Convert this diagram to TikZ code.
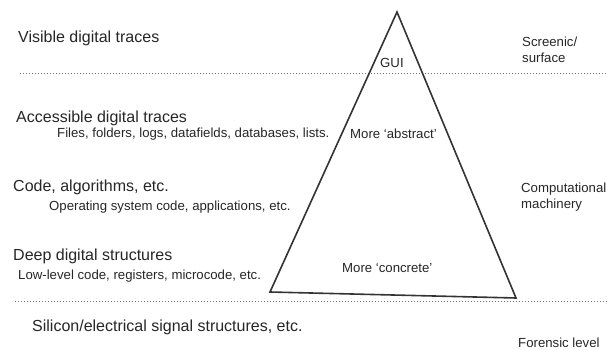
\documentclass[tikz,border=0pt]{standalone}
\usepackage{fontspec}
\setmainfont{Liberation Sans}
\begin{document}
\begin{tikzpicture}[x=1pt,y=-1pt,
  big/.style={anchor=base west,inner sep=0pt,font=\fontsize{16}{19}\selectfont,text=black!85},
  small/.style={anchor=base west,inner sep=0pt,font=\fontsize{13.2}{16}\selectfont,text=black!85},
  side/.style={anchor=base west,inner sep=0pt,font=\fontsize{13.2}{16}\selectfont,text=black!85},
  sep/.style={draw=black!55,line width=1pt,dash pattern=on 1pt off 2pt},
  tri/.style={draw=black!80,line width=1.6pt,line join=miter}]
\useasboundingbox (0,0) rectangle (607,350);
% separators
\coordinate (s1a) at (20,74);
\coordinate (s1b) at (607,74);
\coordinate (s2a) at (15,301);
\coordinate (s2b) at (607,301);
\draw[sep] (s1a) -- (s1b);
\draw[sep] (s2a) -- (s2b);
% triangle
\coordinate (apex) at (397,12);
\coordinate (bl) at (270,292);
\coordinate (br) at (516,298);
\draw[tri] (apex) -- (bl) -- (br) -- cycle;
% left labels
\node[big] (vis) at (18,43) {Visible digital traces};
\node[big] (acc) at (16,122) {Accessible digital traces};
\node[small] (files) at (57,137) {Files, folders, logs, datafields, databases, lists.};
\node[big] (code) at (13,191) {Code, algorithms, etc.};
\node[small] (os) at (49,210) {Operating system code, applications, etc.};
\node[big] (deep) at (13,260) {Deep digital structures};
\node[small] (low) at (18,279) {Low-level code, registers, microcode, etc.};
\node[big] (sil) at (32,331) {Silicon/electrical signal structures, etc.};
% inside triangle
\node[small] (gui) at (380,68) {GUI};
\node[small] (abs) at (350,139) {More `abstract'};
\node[small] (conc) at (342,272) {More `concrete'};
% right labels
\node[side] (scr) at (522,47) {Screenic/};
\node[side] (surf) at (522,63) {surface};
\node[side] (comp) at (521,192) {Computational};
\node[side] (mach) at (521,208) {machinery};
\node[side] (for) at (518,347) {Forensic level};
\end{tikzpicture}
\end{document}
